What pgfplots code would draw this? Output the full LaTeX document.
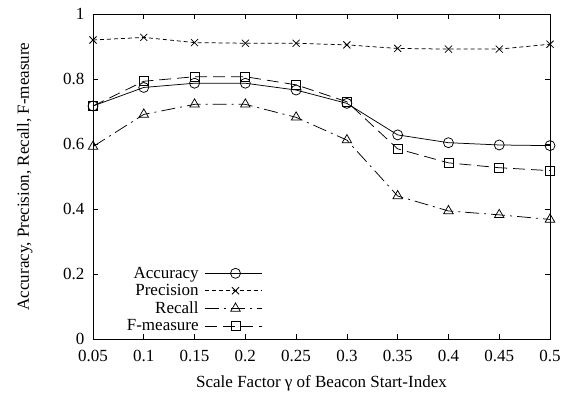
\documentclass[border=0pt]{standalone}
\usepackage{fontspec}
\setmainfont{Liberation Serif}
\usepackage{pgfplots}
\pgfplotsset{compat=1.18}
\newcommand{\lfont}{\fontsize{17}{18}\selectfont}
\begin{document}
\begin{tikzpicture}[font=\lfont]
\begin{axis}[
  scale only axis,
  width=457pt, height=325pt,
  xmin=0.05, xmax=0.5, ymin=0, ymax=1,
  xtick={0.05,0.1,0.15,0.2,0.25,0.3,0.35,0.4,0.45,0.5},
  xticklabels={0.05,0.1,0.15,0.2,0.25,0.3,0.35,0.4,0.45,0.5},
  ytick={0,0.2,0.4,0.6,0.8,1},
  yticklabels={0,0.2,0.4,0.6,0.8,1},
  /pgf/number format/assume math mode=true,
  tick label style={font=\lfont},
  xticklabel style={inner sep=0pt, yshift=-11pt},
  yticklabel style={inner sep=0pt, xshift=-8.5pt},
  tick align=inside,
  major tick length=5pt,
  axis line style={line width=0.9pt},
  every tick/.style={black, line width=0.6pt},
  every axis x label/.style={at={(axis description cs:0.5,-0.135)}, anchor=center},
  every axis y label/.style={at={(axis description cs:-0.149,0.5)}, anchor=center, rotate=90},
  xlabel={Scale Factor γ of Beacon Start-Index},
  ylabel={Accuracy, Precision, Recall, F-measure},
  legend cell align=right,
  legend plot pos=right,
  legend style={at={(0.370,0.018)}, anchor=south east, draw=none, fill=none,
    font=\lfont, row sep=3.7pt, column sep=5pt, inner sep=0pt,
    nodes={inner sep=0.5pt}},
  legend image code/.code={
    \draw[#1, mark repeat=2, mark phase=2] plot coordinates {(0pt,0pt) (31pt,0pt) (57pt,0pt)};
  },
  every axis plot/.append style={black, line width=0.75pt, mark options={solid, line width=0.75pt}},
]
\addplot[solid, mark=o, mark size=5pt] coordinates {
(0.05,0.717) (0.1,0.774) (0.15,0.787) (0.2,0.787) (0.25,0.766)
(0.3,0.725) (0.35,0.628) (0.4,0.604) (0.45,0.597) (0.5,0.595)};
\addlegendentry{Accuracy}
\addplot[dash pattern=on 4pt off 3pt, mark=x, mark size=5pt] coordinates {
(0.05,0.920) (0.1,0.928) (0.15,0.912) (0.2,0.910) (0.25,0.910)
(0.3,0.905) (0.35,0.894) (0.4,0.892) (0.45,0.892) (0.5,0.907)};
\addlegendentry{Precision}
\addplot[dash pattern=on 14pt off 5pt on 2pt off 5pt, mark=triangle, mark size=5.5pt] coordinates {
(0.05,0.592) (0.1,0.691) (0.15,0.722) (0.2,0.722) (0.25,0.682)
(0.3,0.612) (0.35,0.440) (0.4,0.394) (0.45,0.382) (0.5,0.368)};
\addlegendentry{Recall}
\addplot[dash pattern=on 12pt off 6pt, mark=square, mark size=4.5pt] coordinates {
(0.05,0.717) (0.1,0.793) (0.15,0.807) (0.2,0.807) (0.25,0.782)
(0.3,0.730) (0.35,0.585) (0.4,0.542) (0.45,0.527) (0.5,0.518)};
\addlegendentry{F-measure}
\end{axis}
\path (current axis.south west) ++(-93pt,-57pt);
\path (current axis.north east) ++(21pt,14pt);
\end{tikzpicture}
\end{document}
